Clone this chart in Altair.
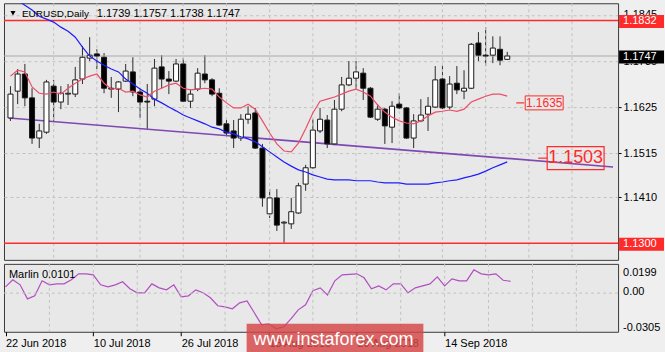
import altair as alt
import pandas as pd

FONT = "Liberation Sans"

# ---------------- data ----------------
bars = list(range(70))
opens = [1.1599, 1.1663, 1.1704, 1.1647, 1.1551, 1.1565, 1.1675, 1.1637, 1.1656, 1.1656,
         1.1692, 1.1742, 1.1752, 1.1744, 1.1670, 1.1668, 1.1687, 1.1709, 1.1661, 1.1639,
         1.1644, 1.1721, 1.1692, 1.1687, 1.1728, 1.1639, 1.1668, 1.1704, 1.1690, 1.1658,
         1.1585, 1.1568, 1.1551, 1.1596, 1.1611, 1.1527, 1.1370, 1.1408, 1.1348, 1.1346,
         1.1372, 1.1441, 1.1480, 1.1568, 1.1594, 1.1537, 1.1620, 1.1678, 1.1694, 1.1706,
         1.1670, 1.1596, 1.1620, 1.1577, 1.1632, 1.1623, 1.1551, 1.1592, 1.1608, 1.1625,
         1.1692, 1.1625, 1.1682, 1.1663, 1.1670, 1.1778, 1.1749, 1.1749, 1.1763, 1.1739]
highs = [1.1675, 1.1716, 1.1728, 1.1670, 1.1585, 1.1690, 1.1690, 1.1675, 1.1680, 1.1721,
         1.1771, 1.1792, 1.1763, 1.1754, 1.1697, 1.1687, 1.1728, 1.1744, 1.1670, 1.1680,
         1.1740, 1.1749, 1.1711, 1.1740, 1.1742, 1.1668, 1.1718, 1.1749, 1.1694, 1.1670,
         1.1596, 1.1594, 1.1608, 1.1627, 1.1623, 1.1537, 1.1429, 1.1429, 1.1353, 1.1408,
         1.1444, 1.1487, 1.1596, 1.1623, 1.1606, 1.1642, 1.1697, 1.1735, 1.1735, 1.1718,
         1.1673, 1.1632, 1.1623, 1.1639, 1.1658, 1.1625, 1.1608, 1.1644, 1.1649, 1.1723,
         1.1725, 1.1699, 1.1723, 1.1713, 1.1778, 1.1804, 1.1816, 1.1794, 1.1794, 1.1757]
lows = [1.1592, 1.1632, 1.1627, 1.1537, 1.1527, 1.1561, 1.1592, 1.1620, 1.1630, 1.1649,
        1.1680, 1.1735, 1.1716, 1.1658, 1.1647, 1.1613, 1.1685, 1.1651, 1.1599, 1.1573,
        1.1627, 1.1670, 1.1656, 1.1685, 1.1637, 1.1623, 1.1663, 1.1682, 1.1651, 1.1580,
        1.1556, 1.1527, 1.1544, 1.1585, 1.1525, 1.1387, 1.1360, 1.1329, 1.1301, 1.1334,
        1.1370, 1.1425, 1.1478, 1.1563, 1.1527, 1.1534, 1.1615, 1.1675, 1.1668, 1.1642,
        1.1599, 1.1592, 1.1537, 1.1539, 1.1620, 1.1549, 1.1527, 1.1589, 1.1568, 1.1623,
        1.1620, 1.1620, 1.1656, 1.1644, 1.1668, 1.1735, 1.1723, 1.1730, 1.1725, 1.1738]
closes = [1.1656, 1.1704, 1.1647, 1.1551, 1.1568, 1.1685, 1.1637, 1.1658, 1.1658, 1.1690,
          1.1744, 1.1749, 1.1747, 1.1670, 1.1668, 1.1685, 1.1711, 1.1661, 1.1637, 1.1637,
          1.1718, 1.1692, 1.1687, 1.1728, 1.1639, 1.1656, 1.1706, 1.1690, 1.1656, 1.1582,
          1.1563, 1.1551, 1.1596, 1.1608, 1.1527, 1.1408, 1.1408, 1.1343, 1.1350, 1.1375,
          1.1437, 1.1480, 1.1570, 1.1596, 1.1537, 1.1620, 1.1678, 1.1694, 1.1709, 1.1670,
          1.1601, 1.1620, 1.1580, 1.1627, 1.1623, 1.1551, 1.1592, 1.1606, 1.1627, 1.1690,
          1.1623, 1.1680, 1.1666, 1.1670, 1.1775, 1.1749, 1.1747, 1.1766, 1.1737, 1.1747]
ma_fast = [1.1699, 1.1713, 1.1709, 1.1673, 1.1658, 1.1656, 1.1661, 1.1656, 1.1670, 1.1682,
           1.1692, 1.1699, 1.1704, 1.1682, 1.1668, 1.1670, 1.1661, 1.1663, 1.1654, 1.1649,
           1.1663, 1.1670, 1.1678, 1.1682, 1.1670, 1.1666, 1.1668, 1.1670, 1.1668, 1.1649,
           1.1635, 1.1623, 1.1623, 1.1632, 1.1620, 1.1592, 1.1563, 1.1537, 1.1520, 1.1518,
           1.1539, 1.1573, 1.1611, 1.1639, 1.1644, 1.1649, 1.1656, 1.1663, 1.1668, 1.1661,
           1.1651, 1.1630, 1.1613, 1.1601, 1.1592, 1.1587, 1.1585, 1.1592, 1.1604, 1.1613,
           1.1615, 1.1618, 1.1615, 1.1620, 1.1637, 1.1644, 1.1651, 1.1656, 1.1656, 1.1651]
ma_slow = [1.1890, 1.1880, 1.1868, 1.1857, 1.1842, 1.1835, 1.1828, 1.1816, 1.1806, 1.1792,
           1.1768, 1.1747, 1.1735, 1.1725, 1.1716, 1.1709, 1.1692, 1.1680, 1.1668, 1.1658,
           1.1644, 1.1635, 1.1625, 1.1616, 1.1606, 1.1599, 1.1592, 1.1585, 1.1577, 1.1573,
           1.1565, 1.1561, 1.1554, 1.1549, 1.1542, 1.1530, 1.1518, 1.1506, 1.1494, 1.1484,
           1.1475, 1.1470, 1.1463, 1.1458, 1.1453, 1.1451, 1.1451, 1.1451, 1.1449, 1.1449,
           1.1449, 1.1446, 1.1444, 1.1444, 1.1444, 1.1441, 1.1441, 1.1441, 1.1441, 1.1444,
           1.1446, 1.1449, 1.1451, 1.1456, 1.1460, 1.1465, 1.1472, 1.1480, 1.1487, 1.1494]
marlin = [0.0054, 0.0114, 0.0071, -0.0049, -0.0023, 0.0105, 0.0071, 0.0079, 0.0079, 0.0114,
          0.0165, 0.0165, 0.0156, 0.0071, 0.0054, 0.0071, 0.0097, 0.0037, 0.0003, 0.0003,
          0.0079, 0.0045, 0.0028, 0.0071, -0.0032, -0.0023, 0.0028, 0.0003, -0.0040, -0.0108,
          -0.0117, -0.0134, -0.0083, -0.0066, -0.0168, -0.0271, -0.0262, -0.0305, -0.0288, -0.0220,
          -0.0143, -0.0100, 0.0020, 0.0045, -0.0015, 0.0105, 0.0156, 0.0161, 0.0165, 0.0131,
          0.0037, 0.0062, 0.0028, 0.0079, 0.0079, 0.0003, 0.0045, 0.0062, 0.0079, 0.0139,
          0.0062, 0.0122, 0.0105, 0.0105, 0.0199, 0.0165, 0.0156, 0.0165, 0.0110, 0.0101]

date_label_bars = [0, 12, 24, 36, 48, 60]
date_labels = ["22 Jun 2018", "10 Jul 2018", "26 Jul 2018", "13 Aug 2018", "29 Aug 2018", "14 Sep 2018"]
grid_bars = [6, 12, 18, 24, 30, 36, 42, 48, 54, 60, 66, 72, 78]
price_ticks = [1.1845, 1.1735, 1.1625, 1.1515, 1.1410]
level_prices = [1.1832, 1.1300]
bid_price = 1.1747
trend_bars = [-0.2, 83.7]
trend_prices = [1.1599, 1.1482]
ma_label_price = 1.1635
trend_label_price = 1.1503
marlin_ticks = [0.0199, 0.0, -0.0305]
marlin_tick_labels = ["0.0199", "0.00", "-0.0305"]
symbol_title = "EURUSD,Daily"
marlin_title = "Marlin 0.0101"

# ---------------- frames ----------------
df = pd.DataFrame({"bar": bars, "open": opens, "high": highs, "low": lows,
                   "close": closes, "ma_fast": ma_fast, "ma_slow": ma_slow,
                   "marlin": marlin})
df["fill"] = ["#ffffff" if c >= o else "#000000" for o, c in zip(opens, closes)]

BG_PLOT = "#e8e8e8"
GRID = "#c2c2c2"
RED = "#ff2a2a"

xscale = alt.Scale(domain=[-0.205, 83.70], nice=False, zero=False)
yscale = alt.Scale(domain=[1.1260, 1.1873], nice=False, zero=False)
mscale = alt.Scale(domain=[-0.0330, 0.0250], nice=False, zero=False)

# main panel: no x axis at all (every layer says None)
XM = alt.X("bar:Q", scale=xscale, axis=None)
# sub panel helper layers: no axis spec, the explicit one from the Marlin layer wins
XS = alt.X("bar:Q", scale=xscale, title=None)


def Yp(field):
    return alt.Y(field, scale=yscale, title=None)


def Ym(field):
    return alt.Y(field, scale=mscale, title=None)


# ---------------- main panel ----------------
vgrid = alt.Chart(pd.DataFrame({"bar": grid_bars})).mark_rule(
    color=GRID, strokeDash=[3, 3], strokeWidth=1).encode(x=XM)

wicks = alt.Chart(df).mark_rule(color="#2b2b2b", strokeWidth=1).encode(
    x=XM,
    y=alt.Y("low:Q", scale=yscale, title=None,
            axis=alt.Axis(orient="right", values=price_ticks, format=".4f",
                          grid=True, gridDash=[3, 3], gridColor=GRID,
                          domain=False, ticks=True, tickSize=3, tickColor="#000000",
                          labelPadding=2, labelFont=FONT, labelFontSize=11,
                          labelOverlap=False, labelColor="#000000", title=None)),
    y2="high:Q")

bid = alt.Chart(pd.DataFrame({"price": [bid_price]})).mark_rule(
    color="#ababab", strokeWidth=1).encode(y=Yp("price:Q"))

levels = alt.Chart(pd.DataFrame({"price": level_prices})).mark_rule(
    color=RED, strokeWidth=1.5).encode(y=Yp("price:Q"))

trend = alt.Chart(pd.DataFrame({"bar": trend_bars, "price": trend_prices})).mark_line(
    color="#7f48b3", strokeWidth=1.6, clip=True).encode(x=XM, y=Yp("price:Q"))

bodies = alt.Chart(df).mark_bar(size=5, stroke="#1a1a1a", strokeWidth=1).encode(
    x=XM, y=Yp("open:Q"), y2="close:Q",
    color=alt.Color("fill:N", scale=None))

slow = alt.Chart(df).mark_line(color="#1e1eff", strokeWidth=1.2, clip=True).encode(
    x=XM, y=Yp("ma_slow:Q"))
fast = alt.Chart(df).mark_line(color="#ea4f6b", strokeWidth=1.2, clip=True).encode(
    x=XM, y=Yp("ma_fast:Q"))

# annotation 1.1635
ma_df = pd.DataFrame({"price": [ma_label_price], "text": [f"{ma_label_price:.4f}"]})
ma_dash = alt.Chart(ma_df).mark_rule(color=RED, strokeWidth=1.2).encode(
    x=alt.value(513), x2=alt.value(521), y=Yp("price:Q"))
ma_box = alt.Chart(ma_df).transform_calculate(
    lo="datum.price - 0.00167", hi="datum.price + 0.00167"
).mark_rect(fill=BG_PLOT, stroke=RED, strokeWidth=1).encode(
    x=alt.value(522), x2=alt.value(560), y=Yp("lo:Q"), y2="hi:Q")
ma_text = alt.Chart(ma_df).mark_text(color=RED, font=FONT, fontSize=12).encode(
    x=alt.value(541), y=Yp("price:Q"), text="text:N")

# annotation 1.1503
tl_df = pd.DataFrame({"price": [trend_label_price], "text": [f"{trend_label_price:.4f}"]})
tl_dash = alt.Chart(tl_df).mark_rule(color=RED, strokeWidth=1.2).encode(
    x=alt.value(535), x2=alt.value(544), y=Yp("price:Q"))
tl_box = alt.Chart(tl_df).transform_calculate(
    lo="datum.price - 0.00274", hi="datum.price + 0.00274"
).mark_rect(fillOpacity=0, stroke=RED, strokeWidth=1.2).encode(
    x=alt.value(544), x2=alt.value(601), y=Yp("lo:Q"), y2="hi:Q")
tl_text = alt.Chart(tl_df).mark_text(color=RED, font=FONT, fontSize=18).encode(
    x=alt.value(572.5), y=Yp("price:Q"), text="text:N")

# price boxes on the right axis
ax_df = pd.DataFrame({
    "price": [level_prices[0], bid_price, level_prices[1]],
    "text": [f"{level_prices[0]:.4f}", f"{bid_price:.4f}", f"{level_prices[1]:.4f}"],
    "bg": [RED, "#000000", RED]})
ax_box = alt.Chart(ax_df).transform_calculate(
    lo="datum.price - 0.0018", hi="datum.price + 0.0013"
).mark_rect().encode(
    x=alt.value(616), x2=alt.value(661), y=Yp("lo:Q"), y2="hi:Q",
    color=alt.Color("bg:N", scale=None))
ax_text = alt.Chart(ax_df).mark_text(align="left", color="#ffffff", font=FONT,
                                     fontSize=11, dy=1).encode(
    x=alt.value(620), y=Yp("price:Q"), text="text:N")

# header
last = df.iloc[-1]
ohlc_text = f"{last['open']:.4f} {last['high']:.4f} {last['low']:.4f} {last['close']:.4f}"
hdr = pd.DataFrame({"t": [symbol_title], "v": [ohlc_text]})
tri = alt.Chart(hdr).mark_point(shape="triangle-down", filled=True, color="#000000",
                                size=26, opacity=1).encode(x=alt.value(9), y=alt.value(10))
t1 = alt.Chart(hdr).mark_text(align="left", baseline="middle", font=FONT, fontSize=10,
                              color="#000000").encode(x=alt.value(18), y=alt.value(11), text="t:N")
t2 = alt.Chart(hdr).mark_text(align="left", baseline="middle", font=FONT, fontSize=11,
                              color="#000000").encode(x=alt.value(93), y=alt.value(11), text="v:N")

main = alt.layer(wicks, vgrid, bid, levels, trend, bodies, slow, fast,
                 ma_dash, ma_box, ma_text, tl_dash, tl_box, tl_text,
                 ax_box, ax_text, tri, t1, t2).properties(width=615, height=257)

# ---------------- Marlin panel ----------------
date_expr = "[" + ",".join(f"'{d}'" for d in date_labels) + "][round(datum.value / 12)]"

mline = alt.Chart(df).mark_line(color="#b24ec2", strokeWidth=1.2).encode(
    x=alt.X("bar:Q", scale=xscale, title=None,
            axis=alt.Axis(values=date_label_bars, labelExpr=date_expr, orient="bottom",
                          grid=False, domain=False, ticks=True, tickSize=4,
                          tickColor="#000000", labelAlign="left", labelFlush=False,
                          labelOverlap=False, labelPadding=2, labelFont=FONT,
                          labelFontSize=11, labelColor="#000000", title=None)),
    y=alt.Y("marlin:Q", scale=mscale, title=None,
            axis=alt.Axis(orient="right", values=marlin_ticks, labels=False,
                          grid=False, domain=False, ticks=False, title=None)))
vgrid2 = alt.Chart(pd.DataFrame({"bar": grid_bars})).mark_rule(
    color=GRID, strokeDash=[3, 3], strokeWidth=1).encode(x=XS)
zero = alt.Chart(pd.DataFrame({"v": [0.0]})).mark_rule(
    color=GRID, strokeDash=[3, 3], strokeWidth=1).encode(y=Ym("v:Q"))

# right-hand scale labels of the oscillator window, drawn as text at their values
mlab = pd.DataFrame({"v": marlin_ticks, "s": marlin_tick_labels,
                     "k": list(range(len(marlin_ticks)))})
mlab_top = alt.Chart(mlab).transform_filter("datum.k == 0").mark_text(
    align="left", baseline="middle", font=FONT, fontSize=11, color="#000000", dy=3
).encode(x=alt.value(620), y=Ym("v:Q"), text="s:N")
mlab_rest = alt.Chart(mlab).transform_filter("datum.k > 0").mark_text(
    align="left", baseline="middle", font=FONT, fontSize=11, color="#000000", dy=-1
).encode(x=alt.value(620), y=Ym("v:Q"), text="s:N")

mt = pd.DataFrame({"t": [marlin_title], "w": ["www.instaforex.com"]})
mtitle = alt.Chart(mt).mark_text(align="left", baseline="middle", font=FONT, fontSize=11,
                                 color="#000000").encode(x=alt.value(5), y=alt.value(11), text="t:N")
wm_box = alt.Chart(mt).mark_rect(color="#d64545", opacity=0.82).encode(
    x=alt.value(243), x2=alt.value(420), y=alt.value(60), y2=alt.value(89))
wm_text = alt.Chart(mt).mark_text(font=FONT, fontSize=18, color="#ffffff",
                                  baseline="middle").encode(
    x=alt.value(330), y=alt.value(76), text="w:N")

sub = alt.layer(mline, vgrid2, zero, mlab_top, mlab_rest, mtitle, wm_box, wm_text
                ).properties(width=615, height=68)

chart = alt.vconcat(main, sub, spacing=2).properties(
    padding={"left": 2, "top": 2, "right": 0, "bottom": 0},
    autosize=alt.AutoSizeParams(type="pad"),
    background="#efefef"
).configure_view(stroke="#3a3a3a", strokeWidth=1, fill=BG_PLOT)

chart.save("out.html", embed_options={"renderer": "svg", "actions": False})
